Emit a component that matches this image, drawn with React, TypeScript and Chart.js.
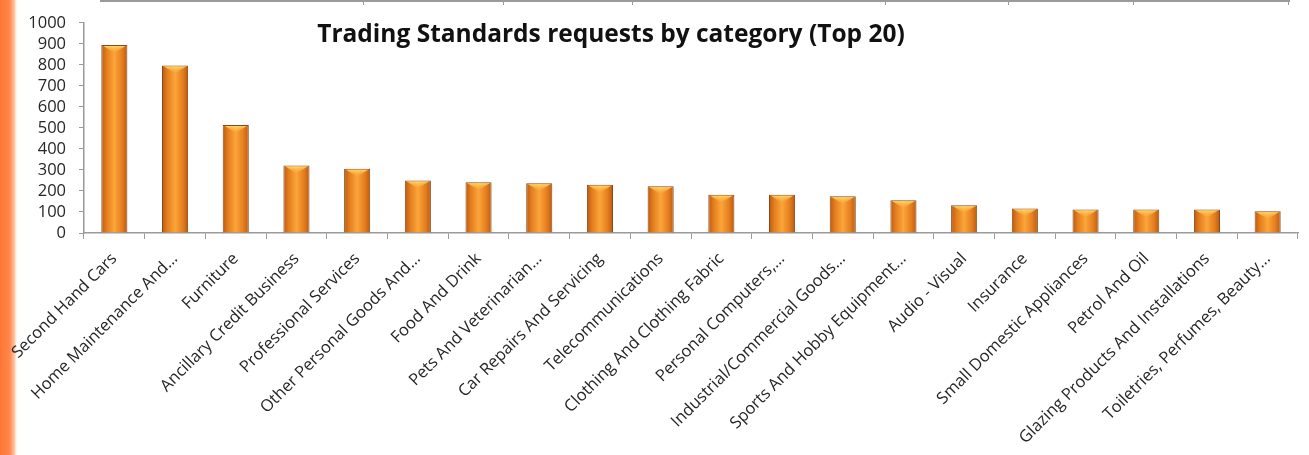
import React, { useEffect, useRef } from "react";
import { Chart, registerables } from "chart.js";

Chart.register(...registerables);

const TITLE = "Trading Standards requests by category (Top 20)";

const categories: string[] = [
  "Second Hand Cars",
  "Home Maintenance And...",
  "Furniture",
  "Ancillary Credit Business",
  "Professional Services",
  "Other Personal Goods And...",
  "Food And Drink",
  "Pets And Veterinarian...",
  "Car Repairs And Servicing",
  "Telecommunications",
  "Clothing And Clothing Fabric",
  "Personal Computers,...",
  "Industrial/Commercial Goods...",
  "Sports And Hobby Equipment...",
  "Audio - Visual",
  "Insurance",
  "Small Domestic Appliances",
  "Petrol And Oil",
  "Glazing Products And Installations",
  "Toiletries, Perfumes, Beauty...",
];

const requests: number[] = [
  895, 797, 514, 321, 306, 250, 242, 237, 230, 223, 182, 182, 175, 156, 132, 117, 112, 112, 112, 104,
];

const yMin = 0;
const yMax = 1000;
const yStep = 100;

const FONT = "'Open Sans', Lato, sans-serif";

const decorPlugin = {
  id: "decor",
  beforeDraw(chart: any) {
    const ctx = chart.ctx;
    ctx.save();
    const g = ctx.createLinearGradient(0, 0, 18, 0);
    g.addColorStop(0, "#ff7433");
    g.addColorStop(0.55, "#ff8a4e");
    g.addColorStop(0.8, "#ffc4a3");
    g.addColorStop(1, "rgba(255,255,255,0)");
    ctx.fillStyle = g;
    ctx.fillRect(0, 0, 18, chart.height);
    ctx.strokeStyle = "#9a9a9a";
    ctx.lineWidth = 2;
    ctx.beginPath();
    ctx.moveTo(100, 1);
    ctx.lineTo(1290, 1);
    ctx.stroke();
    ctx.lineWidth = 1;
    [363, 503, 632, 885, 1008, 1133, 1288].forEach((x) => {
      ctx.beginPath();
      ctx.moveTo(x + 0.5, 1);
      ctx.lineTo(x + 0.5, 5);
      ctx.stroke();
    });
    ctx.restore();
  },
  afterDatasetsDraw(chart: any) {
    const ctx = chart.ctx;
    const meta = chart.getDatasetMeta(0);
    ctx.save();
    meta.data.forEach((bar: any) => {
      const w = bar.width;
      const x = bar.x;
      const y = bar.y;
      if (![w, x, y].every(Number.isFinite)) return;
      const cg = ctx.createLinearGradient(0, y, 0, y + 8);
      cg.addColorStop(0, "#ffe27a");
      cg.addColorStop(1, "rgba(255,190,60,0)");
      ctx.fillStyle = cg;
      ctx.beginPath();
      ctx.moveTo(x - w / 2 + 2, y + 1);
      ctx.lineTo(x + w / 2 - 2, y + 1);
      ctx.lineTo(x, y + 8);
      ctx.closePath();
      ctx.fill();
    });
    ctx.restore();
  },
  afterDraw(chart: any) {
    const ctx = chart.ctx;
    ctx.save();
    ctx.fillStyle = "#111111";
    ctx.font = `bold 24.5px ${FONT}`;
    ctx.textAlign = "center";
    ctx.textBaseline = "alphabetic";
    ctx.fillText(TITLE, 611, 42);
    ctx.restore();
  },
};

function barFill(context: any) {
  const chart = context.chart;
  const xs = chart.scales && chart.scales.x;
  if (!xs || typeof context.dataIndex !== "number") return "#f08a24";
  const cx = xs.getPixelForValue(context.dataIndex);
  const half = ((xs.right - xs.left) / categories.length) * 0.43 / 2;
  if (!Number.isFinite(cx) || !Number.isFinite(half) || half <= 0) return "#f08a24";
  const g = chart.ctx.createLinearGradient(cx - half, 0, cx + half, 0);
  g.addColorStop(0, "#b95a12");
  g.addColorStop(0.2, "#e47d1e");
  g.addColorStop(0.5, "#fba53a");
  g.addColorStop(0.8, "#e47d1e");
  g.addColorStop(1, "#b95a12");
  return g;
}

export default function App() {
  const ref = useRef<HTMLCanvasElement | null>(null);

  useEffect(() => {
    if (!ref.current) return;
    const chart = new Chart(ref.current, {
      type: "bar",
      data: {
        labels: categories,
        datasets: [
          {
            data: requests,
            backgroundColor: barFill,
            borderColor: "#8a4a16",
            borderWidth: 1,
            categoryPercentage: 1,
            barPercentage: 0.43,
          },
        ],
      },
      options: {
        responsive: false,
        animation: false,
        layout: { padding: { top: 21, right: 11, left: 0, bottom: 0 } },
        plugins: {
          legend: { display: false },
          tooltip: { enabled: false },
          title: { display: false },
        },
        scales: {
          x: {
            grid: {
              display: true,
              drawOnChartArea: false,
              drawTicks: true,
              tickLength: 6,
              color: "#9a9a9a",
              offset: true,
            },
            border: { color: "#9a9a9a", width: 1.5 },
            ticks: {
              autoSkip: false,
              minRotation: 45,
              maxRotation: 45,
              color: "#262626",
              font: { family: FONT, size: 16.5 },
              padding: 10,
            },
            afterFit: (s: any) => {
              s.height = 455 - 233;
            },
          },
          y: {
            min: yMin,
            max: yMax,
            grid: {
              display: true,
              drawOnChartArea: false,
              drawTicks: true,
              tickLength: 5,
              color: "#9a9a9a",
            },
            border: { color: "#9a9a9a", width: 1.5 },
            ticks: {
              stepSize: yStep,
              autoSkip: false,
              color: "#262626",
              font: { family: FONT, size: 16.5 },
              padding: 13,
              callback: (v: any) => String(v),
            },
            afterFit: (s: any) => {
              s.width = 84;
            },
          },
        },
      },
      plugins: [decorPlugin],
    });
    return () => chart.destroy();
  }, []);

  return (
    <div style={{ position: "absolute", left: 0, top: 0, width: 1309, height: 455, background: "#ffffff" }}>
      <canvas ref={ref} width={1309} height={455} style={{ display: "block" }} />
    </div>
  );
}
